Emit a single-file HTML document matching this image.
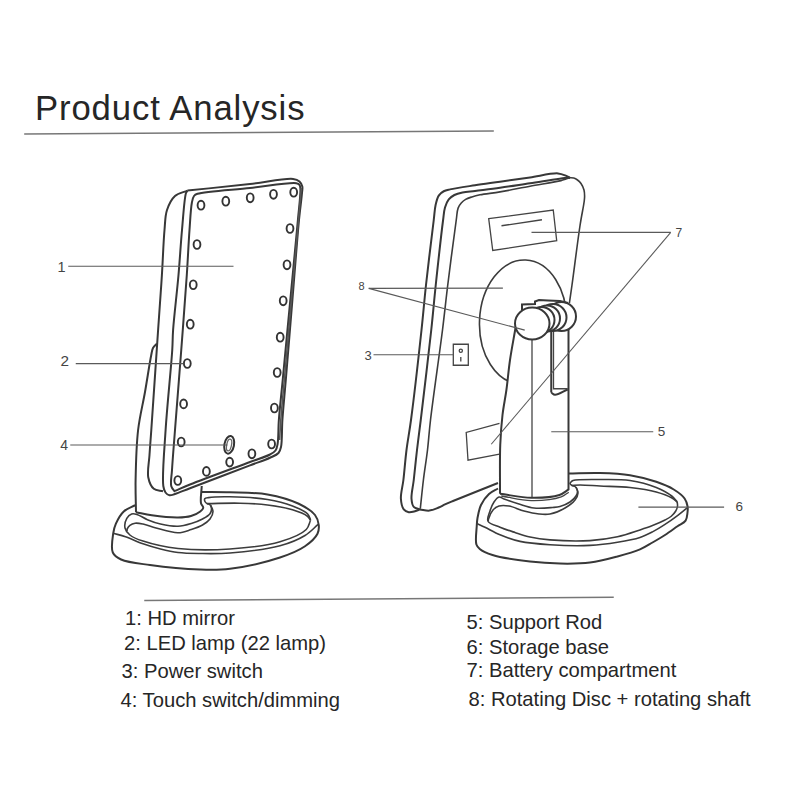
<!DOCTYPE html>
<html><head><meta charset="utf-8"><style>
html,body{margin:0;padding:0;background:#fff;}
body{width:800px;height:800px;position:relative;overflow:hidden;font-family:"Liberation Sans",sans-serif;}
.title{position:absolute;left:35px;top:88.5px;font-size:34.7px;color:#262626;white-space:nowrap;letter-spacing:0.87px;}
.leg{position:absolute;font-size:20.2px;color:#262626;white-space:nowrap;line-height:1;}
svg{position:absolute;left:0;top:0;}
.m{stroke:#383838;stroke-width:2.0;}
.m2{stroke:#3c3c3c;stroke-width:1.6;fill:none;}
.m3{stroke:#444;stroke-width:1.3;fill:none;}
.mf{stroke:#555;stroke-width:1.6;fill:none;}
.n0{stroke:none;}
.led{stroke:#333;stroke-width:1.9;fill:none;}
.led2{stroke:#666;stroke-width:1.3;fill:none;}
.ts{stroke:#333;stroke-width:2.0;fill:none;}
.l{stroke:#5a5a5a;stroke-width:1.1;}
.ul{stroke:#777;stroke-width:1.5;}
.n{font-family:"Liberation Sans",sans-serif;fill:#444;}
</style></head><body>
<div class="title">Product Analysis</div>
<svg width="800" height="800" viewBox="0 0 800 800">
<path class="m" d="M135.10,505.25 C131.32,507.30 126.90,508.48 123.75,511.40 C120.42,514.49 117.67,519.64 115.90,523.60 C114.43,526.89 113.81,529.44 113.25,533.25 C112.48,538.53 110.76,547.97 112.80,552.50 C114.33,555.90 117.17,557.63 121.10,559.50 C127.57,562.58 139.01,563.46 150.00,565.00 C164.35,567.01 185.44,569.03 200.00,569.50 C211.26,569.86 218.81,570.14 230.00,568.75 C244.63,566.94 266.38,562.05 280.00,557.50 C289.96,554.18 298.41,550.80 305.00,546.25 C310.29,542.60 315.43,537.89 317.50,533.75 C318.96,530.82 319.07,527.97 318.75,525.00 C318.39,521.73 317.41,518.09 315.00,515.00 C311.73,510.80 305.34,506.92 298.75,503.75 C290.28,499.68 278.51,496.34 267.50,494.40 C255.68,492.32 241.59,492.63 230.00,492.25 C219.99,491.92 211.33,492.08 202.00,492.00" fill="#fff"/>
<path class="m2" d="M113.25,533.25 C117.33,534.42 121.10,535.24 125.50,536.75 C130.86,538.58 137.12,541.70 143.00,543.75 C148.79,545.77 154.63,547.54 160.50,549.00 C166.30,550.45 171.80,551.74 178.00,552.50 C184.88,553.34 192.10,553.39 200.00,553.50 C209.22,553.63 218.76,553.90 230.00,553.00 C244.58,551.83 266.38,549.52 280.00,545.80 C289.96,543.08 298.25,539.61 305.00,535.50 C310.38,532.23 313.73,528.10 318.10,524.40" fill="none"/>
<path class="m2" d="M310.60,520.00 C309.57,517.92 309.39,515.67 307.50,513.75 C304.57,510.77 298.28,508.21 292.50,506.00 C285.35,503.26 276.75,501.02 267.50,499.50 C256.34,497.66 240.78,496.99 230.00,496.80 C221.85,496.66 212.70,496.89 208.50,497.60 C206.71,497.90 205.26,497.96 204.75,498.75 C204.30,499.44 204.69,500.93 205.10,501.75 C205.48,502.52 206.24,503.11 207.00,503.60 C207.84,504.14 209.26,504.02 210.00,504.75 C210.83,505.57 211.43,507.13 211.50,508.50 C211.58,510.09 211.12,512.17 210.00,513.75 C208.55,515.79 205.35,517.46 202.50,519.00 C199.22,520.77 195.21,522.31 191.25,523.50 C187.07,524.76 182.74,526.07 178.00,526.25 C172.59,526.46 165.86,525.21 160.50,524.00 C155.76,522.93 151.47,521.38 147.40,519.70 C143.64,518.15 139.88,515.23 136.90,514.40 C134.90,513.84 133.21,513.44 131.60,514.00 C129.81,514.62 127.90,516.42 126.80,518.40 C125.45,520.83 124.39,525.16 125.00,528.00 C125.57,530.65 127.52,533.00 129.90,535.00 C133.00,537.60 137.45,539.25 143.00,541.10 C151.73,544.01 165.10,547.09 178.00,548.50 C193.55,550.20 212.88,550.14 230.00,549.00 C246.87,547.87 266.24,545.91 280.00,541.80 C290.42,538.68 301.46,534.33 306.25,529.50 C309.13,526.60 309.15,523.17 310.60,520.00" fill="none"/>
<path class="m2" d="M207.00,503.60 C218.00,503.47 229.51,502.92 240.00,503.20 C249.59,503.46 258.59,503.86 267.50,505.00 C276.07,506.10 285.33,507.60 292.50,509.80 C298.24,511.56 304.58,513.99 307.50,516.25 C309.07,517.47 309.43,518.75 310.40,520.00" fill="none"/>
<path class="m2" d="M210.50,505.00 C211.33,507.17 213.01,509.26 213.00,511.50 C212.98,513.91 211.62,516.82 210.00,519.00 C208.24,521.38 205.40,523.31 202.50,525.00 C199.25,526.89 195.20,528.22 191.25,529.50 C187.06,530.85 182.98,532.73 178.00,532.80 C171.62,532.89 162.44,529.66 156.10,528.00 C151.15,526.70 146.85,524.78 143.00,524.00 C140.07,523.41 137.42,522.85 135.10,523.20 C133.14,523.49 131.24,524.35 129.90,525.40 C128.71,526.32 127.68,527.83 127.25,528.90 C126.95,529.64 127.08,530.30 127.00,531.00" fill="none"/>
<path class="n0" d="M156.90,343.75 C155.60,345.17 153.93,346.27 153.00,348.00 C151.96,349.94 151.93,351.73 151.25,355.00 C149.69,362.46 147.17,379.59 145.00,392.00 C142.79,404.59 139.67,416.41 138.10,430.00 C136.32,445.47 135.88,465.15 135.60,480.00 C135.38,491.92 135.87,501.50 136.00,512.25 L151.75,515.3 L151.75,515.30 C160.50,516.03 170.78,517.61 178.00,517.50 C183.09,517.42 187.12,517.13 191.00,516.00 C194.44,515.00 198.13,513.20 200.25,511.50 C201.70,510.34 203.11,509.11 203.25,507.75 C203.40,506.36 201.75,504.75 201.00,503.25 L201.75,486 L160,486 L156.9,343.75Z" fill="#fff"/>
<path class="m" d="M156.90,343.75 C155.60,345.17 153.93,346.27 153.00,348.00 C151.96,349.94 151.93,351.73 151.25,355.00 C149.69,362.46 147.17,379.59 145.00,392.00 C142.79,404.59 139.67,416.41 138.10,430.00 C136.32,445.47 135.88,465.15 135.60,480.00 C135.38,491.92 135.87,501.50 136.00,512.25" fill="none"/>
<path class="m" d="M136.00,512.25 C141.25,513.27 145.81,514.48 151.75,515.30 C159.36,516.35 170.78,517.61 178.00,517.50 C183.09,517.42 187.12,517.13 191.00,516.00 C194.44,515.00 198.13,513.20 200.25,511.50 C201.70,510.34 203.11,509.11 203.25,507.75 C203.40,506.36 201.44,505.31 201.00,503.25 C200.19,499.43 201.50,491.75 201.75,486.00" fill="none"/>
<path class="m" d="M163.00,491.30 C159.93,490.47 156.18,490.77 153.80,488.80 C151.06,486.54 149.22,482.05 148.30,477.50 C147.07,471.41 149.02,462.70 149.50,455.00 C150.01,446.88 150.52,441.11 151.30,430.00 C152.86,407.78 156.15,358.39 158.10,330.00 C159.54,308.95 160.80,292.42 161.90,275.00 C162.90,259.25 163.41,241.99 164.50,230.00 C165.23,221.99 165.03,215.90 167.00,210.00 C168.76,204.72 171.36,199.26 175.00,196.00 C178.34,193.01 183.33,192.40 187.50,190.60" fill="none"/>
<path class="m" d="M187.50,190.60 C208.33,188.40 231.10,186.12 250.00,184.00 C265.70,182.24 285.18,177.83 293.10,178.90 C296.26,179.33 297.95,180.13 299.50,181.50 C300.91,182.75 301.86,184.66 302.30,186.50 C302.76,188.47 302.23,190.10 302.00,193.00 C301.53,198.93 300.10,208.60 299.00,220.00 C297.10,239.59 294.60,273.33 292.40,300.00 C290.20,326.67 287.65,357.91 285.80,380.00 C284.49,395.62 283.22,407.97 282.40,420.00 C281.72,429.88 282.29,441.30 281.00,447.00 C280.37,449.79 280.00,451.32 278.50,453.00 C276.66,455.06 273.50,456.11 270.00,457.75 C264.81,460.18 258.46,462.18 250.00,465.40 C235.36,470.98 203.33,483.09 190.00,488.20 C183.33,490.76 178.80,492.82 175.00,494.00 C172.75,494.70 171.13,495.61 169.50,495.30 C167.99,495.01 166.51,493.84 165.50,492.50 C164.31,490.91 163.77,489.30 163.30,486.00 C161.95,476.57 164.34,450.31 165.60,430.00 C167.11,405.69 171.13,367.79 172.25,350.00 C172.81,341.12 172.52,338.31 173.10,330.00 C174.07,316.20 176.97,292.42 178.50,275.00 C179.89,259.26 180.68,244.26 182.00,230.00 C183.20,217.05 184.29,197.94 186.00,193.00 C186.47,191.64 187.00,191.40 187.50,190.60" fill="none"/>
<path class="m" d="M175.00,491.90 C173.77,490.03 171.99,488.80 171.30,486.30 C170.22,482.40 171.61,476.63 172.00,470.00 C172.61,459.61 173.80,445.62 175.00,430.00 C176.69,407.91 179.25,376.24 181.25,350.00 C183.18,324.60 185.34,296.83 186.80,275.00 C187.93,258.10 188.53,243.16 189.50,230.00 C190.26,219.70 190.69,208.45 191.90,202.50 C192.50,199.54 192.85,197.48 194.00,196.00 C194.89,194.85 195.52,194.49 197.50,193.80 C204.58,191.33 233.05,189.82 250.00,188.00 C265.90,186.30 289.85,182.06 296.25,183.20 C298.04,183.52 298.80,183.91 299.50,184.80 C300.26,185.77 300.27,186.94 300.40,189.00 C300.76,194.55 299.02,207.27 297.90,220.00 C296.10,240.47 292.83,273.33 290.30,300.00 C287.77,326.67 284.81,357.91 282.70,380.00 C281.21,395.62 279.71,408.35 278.85,420.00 C278.18,429.01 278.60,438.57 277.60,444.00 C277.07,446.90 276.77,448.75 275.50,450.50 C274.23,452.25 272.53,453.14 270.00,454.50 C265.52,456.91 258.45,458.83 250.00,462.00 C235.36,467.49 203.30,479.22 190.00,484.50 C183.30,487.16 180.00,488.70 175.00,490.80" fill="none"/>
<path class="mf" d="M301.20,188.00 C300.30,198.67 299.63,206.93 298.50,220.00 C296.71,240.66 293.77,273.33 291.40,300.00 C289.03,326.67 286.25,357.91 284.30,380.00 C282.92,395.62 281.61,408.95 280.80,420.00 C280.22,427.81 280.00,433.33 279.60,440.00" fill="none"/>
<ellipse class="led" cx="201" cy="205.2" rx="3.4" ry="4.4" fill="none"/>
<ellipse class="led" cx="225.8" cy="201.2" rx="3.4" ry="4.4" fill="none"/>
<ellipse class="led" cx="250.2" cy="197.8" rx="3.4" ry="4.4" fill="none"/>
<ellipse class="led" cx="273.5" cy="194.3" rx="3.4" ry="4.4" fill="none"/>
<ellipse class="led" cx="293.7" cy="192.2" rx="3.4" ry="4.4" fill="none"/>
<ellipse class="led" cx="290" cy="228.5" rx="3.4" ry="4.4" fill="none"/>
<ellipse class="led" cx="287" cy="264.8" rx="3.4" ry="4.4" fill="none"/>
<ellipse class="led" cx="283.2" cy="300.8" rx="3.4" ry="4.4" fill="none"/>
<ellipse class="led" cx="280.2" cy="337.2" rx="3.4" ry="4.4" fill="none"/>
<ellipse class="led" cx="277.2" cy="372.5" rx="3.4" ry="4.4" fill="none"/>
<ellipse class="led" cx="274.4" cy="408" rx="3.4" ry="4.4" fill="none"/>
<ellipse class="led" cx="271.6" cy="444" rx="3.4" ry="4.4" fill="none"/>
<ellipse class="led" cx="197" cy="244.5" rx="3.4" ry="4.4" fill="none"/>
<ellipse class="led" cx="193.25" cy="284.75" rx="3.4" ry="4.4" fill="none"/>
<ellipse class="led" cx="190.25" cy="324.2" rx="3.4" ry="4.4" fill="none"/>
<ellipse class="led" cx="187.3" cy="363.5" rx="3.4" ry="4.4" fill="none"/>
<ellipse class="led" cx="183.6" cy="403.9" rx="3.4" ry="4.4" fill="none"/>
<ellipse class="led" cx="181.2" cy="442" rx="3.4" ry="4.4" fill="none"/>
<ellipse class="led" cx="177.8" cy="480.5" rx="3.4" ry="4.4" fill="none"/>
<ellipse class="led" cx="206.4" cy="471.4" rx="3.4" ry="4.4" fill="none"/>
<ellipse class="led" cx="229.65" cy="462.1" rx="3.4" ry="4.4" fill="none"/>
<ellipse class="led" cx="251.9" cy="453.8" rx="3.4" ry="4.4" fill="none"/>
<ellipse class="ts" cx="229.2" cy="444.8" rx="4.8" ry="9.0" fill="none" transform="rotate(11 229.2 444.8)"/>
<ellipse class="led2" cx="229.1" cy="445.0" rx="2.4" ry="6.0" fill="none" transform="rotate(11 229.1 445.0)"/>
<path class="m" d="M498.00,488.50 C495.00,490.33 491.69,491.51 489.00,494.00 C485.94,496.82 482.92,500.99 481.00,505.00 C479.09,508.99 478.19,514.16 477.50,518.00 C476.97,520.96 476.93,522.78 476.75,526.00 C476.47,530.89 475.13,540.55 476.40,544.50 C477.10,546.67 478.03,547.59 479.75,549.00 C482.48,551.23 486.98,553.25 492.50,555.00 C501.57,557.88 518.16,560.17 530.00,561.60 C540.52,562.87 550.00,563.43 560.00,563.60 C570.00,563.77 580.27,563.83 590.00,562.60 C599.42,561.41 608.84,558.82 617.50,556.50 C625.42,554.38 633.71,552.10 640.00,549.40 C644.90,547.30 648.35,544.89 652.50,542.50 C656.69,540.09 660.88,537.67 665.00,535.00 C669.22,532.26 673.78,528.85 677.50,526.25 C680.49,524.16 683.95,523.04 685.60,520.60 C687.12,518.36 687.19,515.01 687.50,512.50 C687.77,510.37 687.96,508.61 687.60,506.50 C687.17,503.99 686.39,501.02 684.60,498.50 C682.29,495.26 678.01,492.13 673.75,489.50 C668.79,486.43 662.78,484.04 656.25,481.80 C648.48,479.14 639.11,476.67 630.00,475.20 C620.40,473.65 610.13,473.29 600.00,473.00 C589.63,472.70 579.00,473.33 568.50,473.50" fill="#fff"/>
<path class="m2" d="M476.75,523.50 C479.50,524.75 481.86,525.75 485.00,527.25 C489.27,529.29 494.55,532.50 500.00,534.75 C506.11,537.28 512.56,539.77 520.00,541.40 C528.90,543.35 539.26,544.06 550.00,544.75 C562.36,545.54 577.93,545.98 590.00,545.40 C600.04,544.92 608.83,543.71 617.50,542.30 C625.41,541.01 633.69,539.56 640.00,537.50 C644.87,535.91 648.40,534.04 652.50,531.90 C656.73,529.69 660.88,527.08 665.00,524.40 C669.22,521.66 673.64,518.51 677.50,515.60 C680.98,512.98 683.97,510.40 687.20,507.80" fill="none"/>
<path class="m2" d="M677.20,502.00 C675.47,500.08 674.41,498.17 672.00,496.25 C668.32,493.33 662.34,489.96 656.25,487.50 C648.77,484.48 639.12,481.85 630.00,480.50 C620.41,479.08 609.74,479.48 600.00,479.50 C590.76,479.52 576.78,479.16 573.00,480.50 C571.85,480.91 571.52,481.45 571.00,482.00 C570.56,482.47 569.95,482.99 570.00,483.50 C570.06,484.14 571.20,485.00 572.00,485.50 C572.85,486.02 574.15,485.80 575.00,486.50 C576.08,487.40 577.33,489.42 577.50,491.00 C577.67,492.59 576.97,494.38 576.00,496.00 C574.76,498.07 572.44,500.32 570.00,502.00 C567.23,503.91 563.16,505.60 560.00,506.50 C557.38,507.25 555.56,507.26 552.50,507.50 C547.71,507.88 539.80,508.68 534.00,508.00 C528.69,507.38 523.98,505.49 519.00,504.00 C513.98,502.49 507.65,500.34 504.00,499.00 C501.87,498.22 500.57,496.68 499.00,497.00 C497.20,497.37 495.42,499.93 494.00,502.00 C492.32,504.44 491.00,507.84 490.00,511.00 C488.98,514.25 486.70,518.61 488.00,521.25 C489.47,524.24 495.72,525.44 500.00,527.25 C504.66,529.22 509.98,530.87 515.00,532.50 C519.98,534.12 524.59,535.80 530.00,537.00 C536.14,538.36 542.17,539.27 550.00,539.90 C561.02,540.79 577.94,541.32 590.00,540.60 C600.05,540.00 608.86,538.69 617.50,536.80 C625.45,535.06 633.61,532.09 640.00,530.00 C644.79,528.43 648.37,527.25 652.50,525.60 C656.70,523.92 661.59,521.78 665.00,520.00 C667.49,518.70 669.45,517.75 671.25,516.25 C672.96,514.82 674.54,513.02 675.60,511.25 C676.55,509.66 677.26,507.87 677.50,506.25 C677.71,504.80 677.30,503.42 677.20,502.00" fill="none"/>
<path class="m2" d="M572.00,485.50 C574.67,485.33 576.73,485.02 580.00,485.00 C585.16,484.97 592.66,485.63 600.00,486.00 C608.99,486.45 620.36,486.45 630.00,487.50 C639.07,488.48 648.70,489.83 656.25,491.90 C662.26,493.55 668.27,495.90 672.00,498.00 C674.32,499.31 675.47,500.67 677.20,502.00" fill="none"/>
<path class="m2" d="M576.00,487.00 C576.67,489.00 578.09,490.94 578.00,493.00 C577.91,495.26 576.68,497.79 575.00,500.00 C572.82,502.87 568.86,505.75 565.00,508.00 C560.66,510.53 554.70,513.10 550.00,514.00 C546.13,514.75 542.93,514.39 539.00,514.00 C534.37,513.54 528.96,512.32 524.00,511.00 C518.96,509.66 513.55,506.74 509.00,506.00 C505.38,505.41 501.80,505.15 499.00,506.00 C496.62,506.72 494.67,508.11 493.00,510.00 C491.03,512.23 489.12,517.04 488.50,519.00 C488.22,519.88 488.30,520.33 488.20,521.00" fill="none"/>
<path class="m" d="M420.00,509.40 C418.33,510.02 416.78,510.79 415.00,511.25 C413.06,511.75 410.66,512.55 408.75,512.20 C406.93,511.87 405.01,511.01 403.75,509.40 C402.01,507.16 401.16,502.83 400.90,498.75 C400.56,493.41 402.57,486.99 403.40,480.00 C404.44,471.18 405.24,459.99 406.50,450.00 C407.77,439.99 409.31,432.70 411.00,420.00 C413.93,398.06 418.81,354.86 421.50,330.00 C423.40,312.44 424.21,301.37 426.00,285.00 C428.16,265.31 432.04,234.06 433.75,220.00 C434.57,213.24 434.61,209.37 435.60,205.00 C436.40,201.46 437.16,197.99 438.75,195.60 C440.05,193.65 441.87,192.28 443.75,191.25 C445.62,190.22 447.20,190.04 450.00,189.40 C455.53,188.13 466.66,186.58 475.00,185.30 C483.33,184.03 491.29,183.00 500.00,181.75 C509.55,180.38 520.17,178.81 530.00,177.40 C539.49,176.03 551.47,172.90 558.00,173.40 C561.60,173.68 564.07,175.02 566.25,175.90 C567.78,176.51 568.75,177.17 570.00,177.80" fill="none"/>
<path class="m" d="M420.00,509.40 C417.92,508.57 415.17,508.48 413.75,506.90 C412.16,505.13 411.75,502.05 411.50,498.75 C411.13,493.81 412.95,486.98 413.75,480.00 C414.76,471.17 415.83,460.00 417.00,450.00 C418.17,440.00 419.22,432.68 420.75,420.00 C423.40,398.04 428.56,354.86 431.25,330.00 C433.15,312.44 434.01,301.37 435.75,285.00 C437.85,265.31 441.35,233.20 443.10,220.00 C443.87,214.20 443.90,211.15 445.00,207.50 C445.92,204.43 447.05,201.54 448.75,199.40 C450.27,197.48 452.23,196.13 454.40,195.00 C456.76,193.77 459.48,193.15 462.50,192.50 C466.19,191.70 470.12,191.52 475.00,190.90 C481.90,190.02 491.29,188.94 500.00,187.75 C509.55,186.44 519.44,184.86 530.00,183.30 C541.80,181.56 562.36,178.17 567.50,177.80 C568.82,177.70 569.17,177.80 570.00,177.80" fill="none"/>
<path class="m2" d="M420.30,508.75 C421.33,499.17 422.22,489.68 423.40,480.00 C424.61,470.10 426.32,460.01 427.50,450.00 C428.68,440.01 429.02,432.66 430.50,420.00 C433.06,398.02 439.39,354.86 442.50,330.00 C444.70,312.44 445.73,301.37 447.75,285.00 C450.19,265.31 454.39,232.98 456.25,220.00 C457.05,214.44 456.96,211.13 458.10,208.10 C458.90,205.98 459.99,204.56 461.25,203.10 C462.49,201.67 463.92,200.41 465.60,199.40 C467.43,198.30 469.64,197.64 471.90,196.90 C474.41,196.08 476.68,195.47 480.00,194.80 C485.16,193.76 492.67,193.13 500.00,191.90 C509.00,190.39 519.91,188.07 530.00,186.20 C540.24,184.30 555.11,182.07 561.00,180.60 C563.41,180.00 564.42,179.49 566.00,179.00 C567.41,178.56 568.68,177.94 570.00,177.80 C571.26,177.67 572.53,177.76 573.75,178.10 C575.04,178.46 576.33,179.15 577.50,180.00 C578.77,180.92 579.99,182.05 581.00,183.50 C582.22,185.25 583.41,187.83 584.00,190.00 C584.54,191.99 584.57,194.09 584.60,196.00 C584.63,197.74 584.53,198.72 584.25,201.00 C583.64,206.02 581.61,215.18 580.10,225.00 C577.72,240.48 573.98,270.85 572.00,285.00 C570.92,292.76 570.27,297.00 569.40,303.00" fill="none"/>
<path class="m" d="M420.00,509.40 C423.13,509.80 426.30,510.90 429.40,510.60 C432.56,510.29 435.98,508.64 438.75,507.50 C441.08,506.54 442.77,505.42 445.00,504.40 C447.49,503.26 449.24,502.55 453.00,501.00 C461.89,497.34 483.00,489.00 498.00,483.00" fill="none"/>
<path class="m3" d="M488.70,218.70 L553.25,210.00 L556.70,240.75 L492.75,250.50Z" fill="none"/>
<path class="m3" d="M501.50,225.75 L542.00,219.75" fill="none"/>
<path class="m3" d="M453.30,344.25 L468.30,344.25 L468.30,365.25 L453.30,365.25Z" fill="none"/>
<ellipse class="m3" cx="460.8" cy="350.7" rx="1.6" ry="1.6" fill="none"/>
<path class="m3" d="M460.80,357.00 L460.80,361.50" fill="none"/>
<ellipse class="m2" cx="523" cy="322" rx="43.5" ry="62" fill="none" transform="rotate(2.5 523 322)"/>
<path class="m3" d="M499.50,423.30 L466.20,432.45 L468.00,460.20 L499.50,454.20" fill="none"/>
<path class="n0" d="M515.50,328.00 C513.67,338.67 511.53,349.49 510.00,360.00 C508.52,370.14 507.72,380.47 506.40,390.00 C505.20,398.72 503.51,406.27 502.50,415.00 C501.40,424.52 500.70,433.78 500.25,445.00 C499.68,459.28 500.08,477.50 500.00,493.75 L500.00,493.75 C510.42,495.10 521.10,497.65 531.25,497.80 C540.87,497.94 552.71,497.21 559.40,495.00 C563.55,493.63 565.63,491.27 568.75,489.40 L568.5,327 L530,320Z" fill="#fff"/>
<path class="m" d="M515.50,328.00 C513.67,338.67 511.53,349.49 510.00,360.00 C508.52,370.14 507.72,380.47 506.40,390.00 C505.20,398.72 503.51,406.27 502.50,415.00 C501.40,424.52 500.70,433.78 500.25,445.00 C499.68,459.28 500.08,477.50 500.00,493.75" fill="none"/>
<path class="m" d="M500.00,493.75 C510.42,495.10 521.10,497.65 531.25,497.80 C540.87,497.94 552.71,497.21 559.40,495.00 C563.55,493.63 565.63,491.27 568.75,489.40" fill="none"/>
<path class="m3" d="M501.25,496.00 C511.25,497.53 521.24,500.45 531.25,500.60 C541.24,500.75 554.74,499.21 561.25,496.90 C564.77,495.65 566.25,493.77 568.75,492.20" fill="none"/>
<path class="m" d="M568.50,327.00 L568.50,490.00" fill="none"/>
<path class="m3" d="M532.00,339.50 L532.00,497.00" fill="none"/>
<path class="m" d="M551.25,329.00 L551.25,392.50 M551.25,392.50 C552.50,393.25 553.34,394.63 555.00,394.75 C557.95,394.97 563.50,391.25 567.75,389.50" fill="none"/>
<path class="m3" d="M553.50,329.00 L553.50,388.75 L567.75,388.75" fill="none"/>
<ellipse class="m" cx="561.5" cy="316.5" rx="14.5" ry="14.5" fill="#fff"/>
<ellipse class="m" cx="553" cy="317.5" rx="13.5" ry="13.5" fill="#fff"/>
<ellipse class="m" cx="547" cy="318.5" rx="13" ry="13" fill="#fff"/>
<ellipse class="m" cx="541.5" cy="320" rx="13" ry="13" fill="#fff"/>
<path class="m" d="M522.00,310.00 L522.00,304.50 L535.00,304.00 L535.00,301.50 L539.00,300.00 L548.00,300.50 L560.00,301.00 L568.00,303.00" fill="none"/>
<ellipse class="m" cx="532.25" cy="323.5" rx="17.25" ry="16" fill="#fff"/>
<line class="ul" x1="24.2" y1="134" x2="493.8" y2="131"/>
<line class="ul" x1="144.25" y1="600.4" x2="613.75" y2="597.25"/>
<line class="l" x1="68.25" y1="266.25" x2="233.5" y2="266.25"/>
<line class="l" x1="75.75" y1="363.6" x2="183.5" y2="363.6"/>
<line class="l" x1="70.25" y1="445" x2="227.4" y2="445"/>
<line class="l" x1="373.5" y1="354.75" x2="453.3" y2="354.75"/>
<line class="l" x1="368.75" y1="288.4" x2="502.9" y2="288.15"/>
<line class="l" x1="368.75" y1="288.4" x2="524.75" y2="330.15"/>
<line class="l" x1="531.5" y1="232.4" x2="670.75" y2="232.4"/>
<line class="l" x1="670.75" y1="232.4" x2="491.25" y2="444.25"/>
<line class="l" x1="551.25" y1="431.7" x2="653.25" y2="431.7"/>
<line class="l" x1="638.4" y1="507.1" x2="724.1" y2="507.1"/>
<text class="n" x="57.5" y="271.8" font-size="14.5">1</text>
<text class="n" x="60.6" y="366" font-size="15.3">2</text>
<text class="n" x="60.3" y="449.8" font-size="14">4</text>
<text class="n" x="364.6" y="359.9" font-size="13">3</text>
<text class="n" x="358.6" y="290.3" font-size="11">8</text>
<text class="n" x="675.5" y="236.7" font-size="12">7</text>
<text class="n" x="657.8" y="436.3" font-size="13.5">5</text>
<text class="n" x="735.5" y="511.3" font-size="13.5">6</text>
</svg>
<div class="leg" style="left:125px;top:607.6px">1: HD mirror</div>
<div class="leg" style="left:124px;top:633.1px">2: LED lamp (22 lamp)</div>
<div class="leg" style="left:121.5px;top:660.6px">3: Power switch</div>
<div class="leg" style="left:120.5px;top:689.6px">4: Touch switch/dimming</div>
<div class="leg" style="left:466.5px;top:612.1px">5: Support Rod</div>
<div class="leg" style="left:466.5px;top:637.1px">6: Storage base</div>
<div class="leg" style="left:466.5px;top:659.6px">7: Battery compartment</div>
<div class="leg" style="left:468.5px;top:689.1px">8: Rotating Disc + rotating shaft</div>
</body></html>
